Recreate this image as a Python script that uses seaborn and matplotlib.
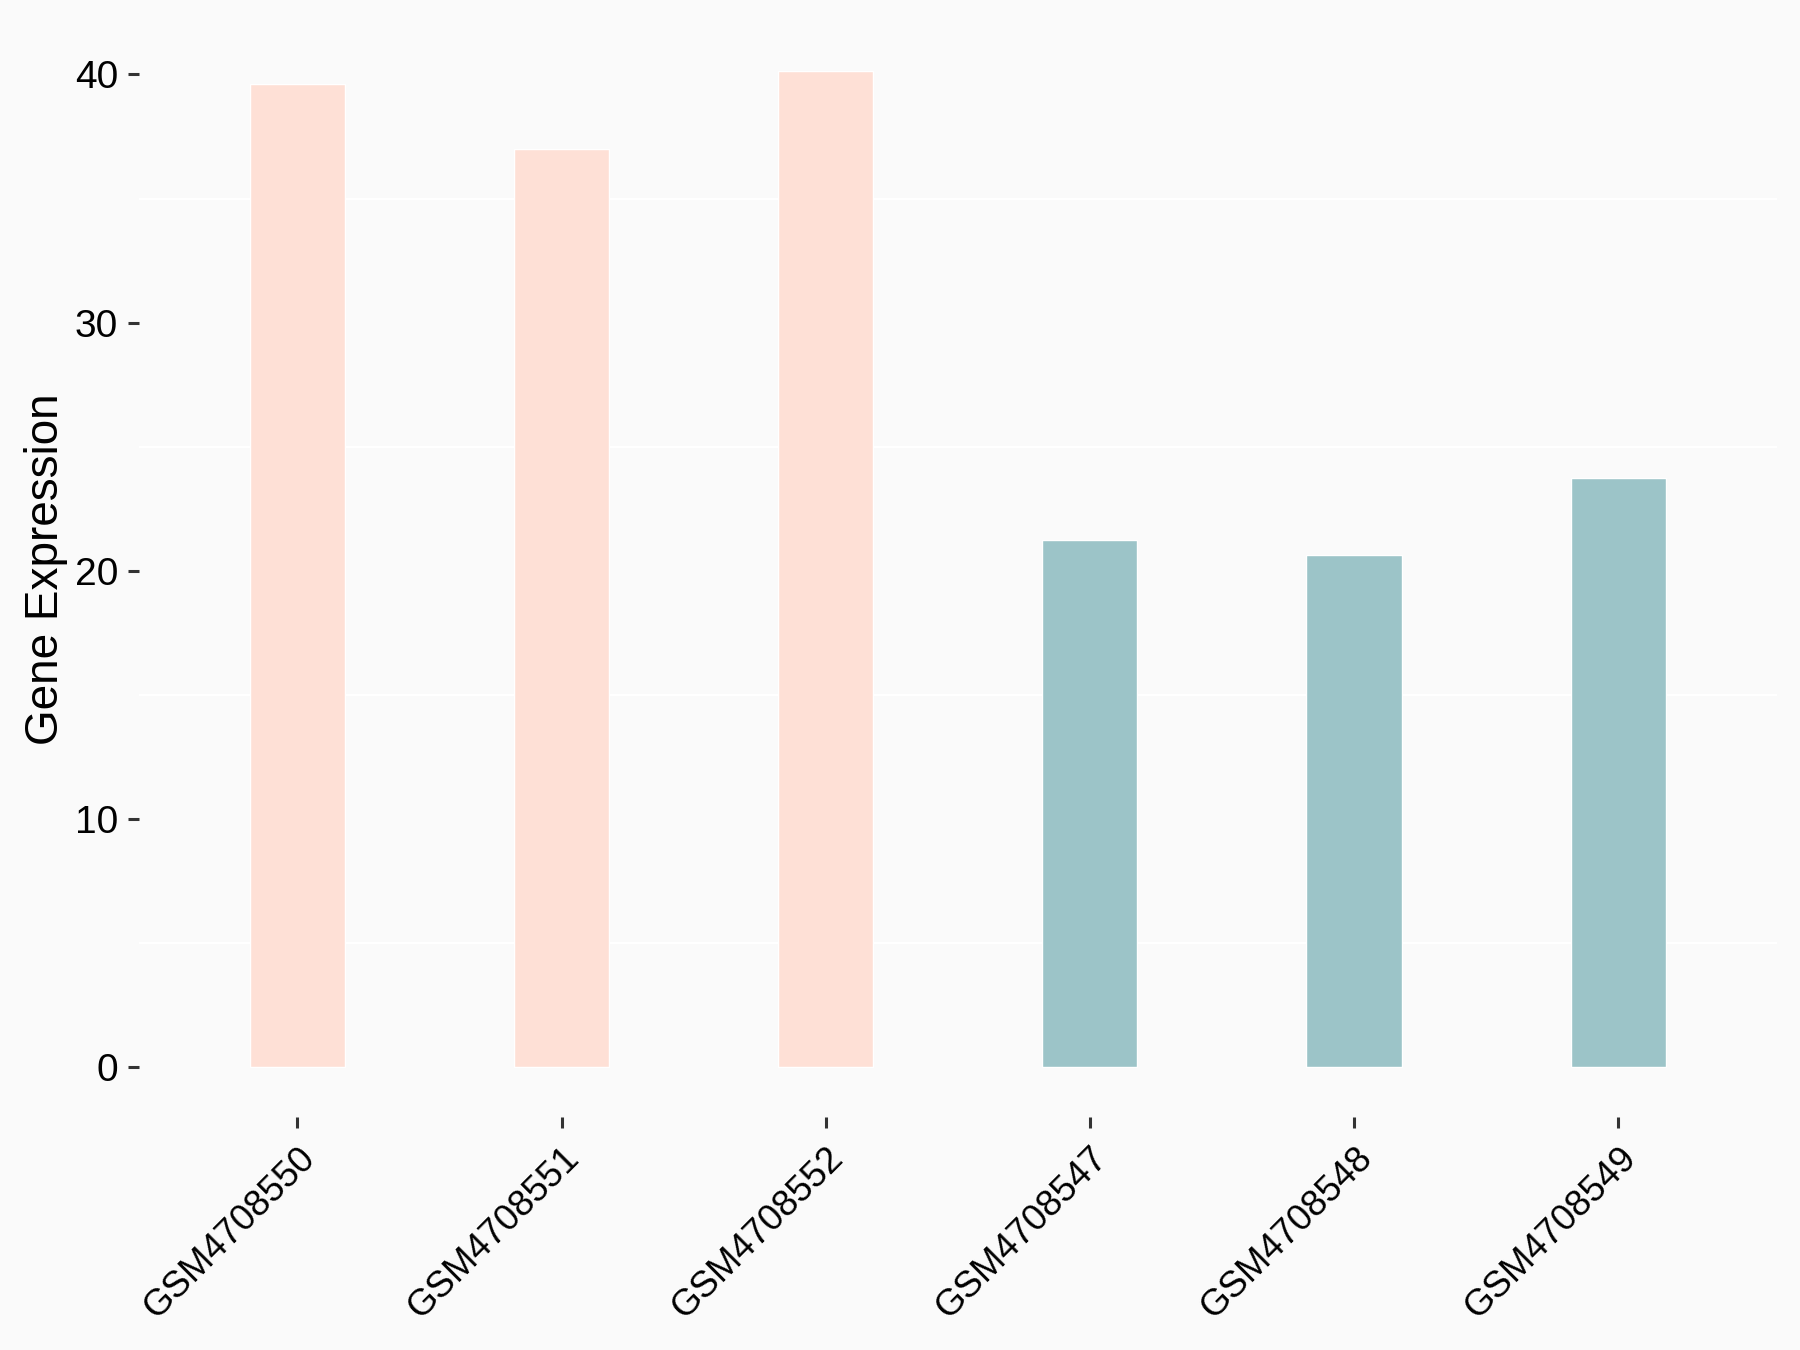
import pandas as pd
import matplotlib.pyplot as plt
import seaborn as sns

samples = ['GSM4708550', 'GSM4708551', 'GSM4708552', 'GSM4708547', 'GSM4708548', 'GSM4708549']
expression = [39.6, 37.0, 40.15, 21.25, 20.65, 23.75]
groups = ['A', 'A', 'A', 'B', 'B', 'B']
group_colors = {'A': '#FEE0D6', 'B': '#9CC4C8'}
y_ticks = [0, 10, 20, 30, 40]
minor_grid = [5, 15, 25, 35]

df = pd.DataFrame({'Sample': samples, 'Expression': expression, 'Group': groups})

sns.set_style('white')
plt.rcParams['font.family'] = ['Liberation Sans', 'DejaVu Sans']

fig = plt.figure(figsize=(18, 13.5), dpi=100, facecolor='#FAFAFA')
ax = fig.add_axes([0.0772, 0.1726, 0.9098, 0.8118])
ax.set_facecolor('#FAFAFA')

sns.barplot(data=df, x='Sample', y='Expression', hue='Group', order=samples,
            palette=group_colors, dodge=False, width=0.36, legend=False,
            saturation=1, ax=ax, zorder=3)

ax.set_xlim(-0.6, 5.6)
ax.set_ylim(-2.0, 42.15)
ax.set_yticks(y_ticks)
for v in minor_grid:
    ax.axhline(v, color='white', linewidth=1.5, zorder=1)

for s in ax.spines.values():
    s.set_visible(False)

ax.tick_params(axis='both', which='major', bottom=True, left=True, length=8,
               width=2.2, color='#333333', labelsize=28, labelcolor='black', pad=7)
ax.tick_params(axis='x', labelsize=26.5, pad=9)
plt.setp(ax.get_xticklabels(), rotation=45, ha='right', rotation_mode='anchor')

ax.set_xlabel('')
ax.set_ylabel('Gene Expression', fontsize=33, color='black')
ax.yaxis.set_label_coords(-0.0433, 0.5)

fig.savefig('out.png', dpi=100, facecolor='#FAFAFA')
